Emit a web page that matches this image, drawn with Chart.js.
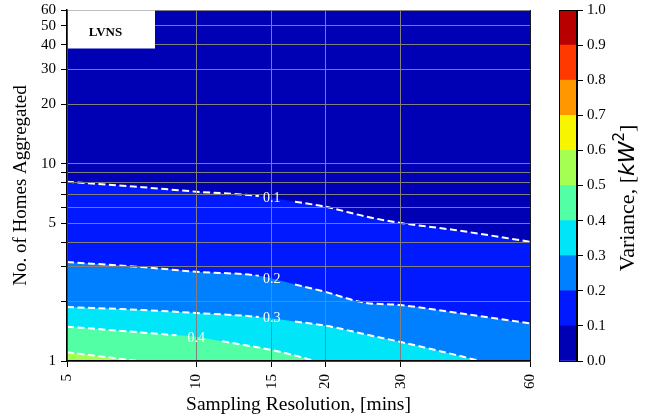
<!DOCTYPE html>
<html><head><meta charset="utf-8">
<script src="https://cdn.jsdelivr.net/npm/chart.js@4.4.1/dist/chart.umd.min.js"></script>
<style>
html,body{margin:0;padding:0;background:#fff;}
#wrap{position:relative;width:652px;height:419px;overflow:hidden;}
#main{position:absolute;left:0;top:0;}
#cbar{position:absolute;left:545px;top:0;}
</style></head><body>
<div id="wrap">
<canvas id="main" width="545" height="419"></canvas>
<canvas id="cbar" width="107" height="419"></canvas>
</div>
<script>
// ---- data ----
const xTicks = [5, 10, 15, 20, 30, 60];
const yTicks = [1, 2, 3, 4, 5, 6, 7, 8, 9, 10, 20, 30, 40, 50, 60];
const yLabelled = [1, 5, 10, 20, 30, 40, 50, 60];
const levels = [0.1, 0.2, 0.3, 0.4, 0.5];
const cbarTicks = [0, 0.1, 0.2, 0.3, 0.4, 0.5, 0.6, 0.7, 0.8, 0.9, 1.0];
const bandColors = ['#0000b4', '#0019ff', '#007fff', '#00e5f7', '#52ffa4', '#a4ff52', '#f7f500', '#ff9700', '#ff3900', '#b90000'];

// contour lines: sampling resolution (x) vs homes aggregated (y)
const c1X = [5, 7.5, 10, 14, 17, 20, 25, 30, 40, 60];
const c1Y = [8.1, 7.59, 7.21, 6.85, 6.41, 6.05, 5.38, 5.0, 4.61, 4.02];
const c2X = [5, 7.5, 10, 14, 17, 20, 24.5, 30, 40, 60];
const c2Y = [3.17, 2.99, 2.83, 2.70, 2.44, 2.24, 1.98, 1.92, 1.76, 1.55];
const c3X = [5, 7.5, 10, 14, 17, 20, 25, 30, 40, 45.9];
const c3Y = [1.877, 1.813, 1.751, 1.671, 1.585, 1.51, 1.36, 1.248, 1.077, 1.0];
const c4X = [5, 7, 9, 10, 11.5, 15, 17, 18.9];
const c4Y = [1.492, 1.41, 1.35, 1.328, 1.258, 1.137, 1.066, 1.0];
const c5X = [5, 6, 7.33];
const c5Y = [1.107, 1.055, 1.0];

const labelX = [15, 15, 15, 10];
const labelY = [6.69, 2.60, 1.65, 1.31];
const gapFrom = [14, 14, 14, 9];
const gapTo = [17, 17, 17, 11.5];

const SERIF = '"Liberation Serif", "Times New Roman", serif';
const contours = [[c1X, c1Y], [c2X, c2Y], [c3X, c3Y], [c4X, c4Y], [c5X, c5Y]];

const datasets = [];
contours.forEach((c, i) => {
  const data = c[0].map((x, j) => ({x: x, y: c[1][j]}));
  // filled band below this contour
  datasets.push({
    type: 'line', data: data,
    borderWidth: 0, borderColor: 'rgba(0,0,0,0)',
    backgroundColor: bandColors[i + 1],
    fill: 'start', pointRadius: 0,
    cubicInterpolationMode: 'monotone',
    order: 20 - i
  });
  // dashed contour line
  datasets.push({
    type: 'line', data: data,
    borderColor: '#ffffff', borderWidth: 2, borderDash: [7, 3.5],
    fill: false, pointRadius: 0,
    cubicInterpolationMode: 'monotone',
    order: 5 - i,
    segment: {
      borderColor: ctx => {
        if (i >= gapFrom.length) return '#ffffff';
        const a = data[ctx.p0DataIndex].x, b = data[ctx.p1DataIndex].x;
        return (a >= gapFrom[i] && b <= gapTo[i]) ? 'rgba(255,255,255,0)' : '#ffffff';
      }
    }
  });
});

const bgPlugin = {
  id: 'bg',
  beforeDatasetsDraw(chart) {
    const {ctx, chartArea: a} = chart;
    ctx.save();
    ctx.fillStyle = bandColors[0];
    ctx.fillRect(a.left, a.top, a.right - a.left, a.bottom - a.top);
    ctx.restore();
  }
};

const overlayPlugin = {
  id: 'overlay',
  afterDraw(chart) {
    const {ctx, chartArea: a} = chart;
    const xs = chart.scales.x, ys = chart.scales.y;
    ctx.save();
    ctx.font = '14px ' + SERIF;
    ctx.fillStyle = '#ffffff';
    ctx.textAlign = 'center';
    ctx.textBaseline = 'middle';
    labelX.forEach((lx, i) => {
      ctx.fillText(levels[i].toFixed(1), xs.getPixelForValue(lx), ys.getPixelForValue(labelY[i]));
    });
    // LVNS box
    ctx.fillStyle = '#ffffff';
    ctx.fillRect(a.left + 1, a.top + 0.5, 87, 38);
    ctx.fillStyle = '#000000';
    ctx.font = 'bold 13px ' + SERIF;
    ctx.fillText('LVNS', a.left + 38.5, a.top + 22.5);
    ctx.restore();
  }
};

function noPad(s) { s.paddingTop = 0; s.paddingBottom = 0; s.paddingLeft = 0; s.paddingRight = 0; }

new Chart(document.getElementById('main'), {
  type: 'line',
  data: {datasets: datasets},
  options: {
    responsive: false,
    animation: false,
    layout: {padding: {top: 10, right: 15, left: 0, bottom: 0}},
    plugins: {legend: {display: false}, tooltip: {enabled: false}},
    scales: {
      x: {
        type: 'logarithmic', min: 5, max: 60,
        afterBuildTicks: s => { s.ticks = xTicks.map(v => ({value: v})); },
        afterFit: s => { s.height = 58; noPad(s); },
        ticks: {autoSkip: false, minRotation: 90, maxRotation: 90, padding: 7, color: '#000',
          font: {family: SERIF, size: 15}, callback: v => String(v)},
        grid: {z: 1, color: ctx => (ctx.tick && ctx.tick.value === 60) ? '#1a1a1a' : '#808080',
          lineWidth: 1, tickColor: '#000', tickLength: 6, tickWidth: 1},
        border: {z: 2, display: true, color: '#000', width: 1.5},
        title: {display: true, text: 'Sampling Resolution, [mins]', color: '#000',
          font: {family: SERIF, size: 19.5}, padding: {top: 0, bottom: 2}}
      },
      y: {
        type: 'logarithmic', min: 1, max: 60,
        afterBuildTicks: s => { s.ticks = yTicks.map(v => ({value: v})); },
        afterFit: s => { s.width = 67; noPad(s); },
        ticks: {autoSkip: false, padding: 5, color: '#000', font: {family: SERIF, size: 15},
          callback: v => yLabelled.includes(v) ? String(v) : ''},
        grid: {z: 1, color: '#808080', lineWidth: 1, tickColor: '#000', tickLength: 6, tickWidth: 1},
        border: {z: 2, display: true, color: '#000', width: 1.5},
        title: {display: true, text: 'No. of Homes Aggregated', color: '#000',
          font: {family: SERIF, size: 19}, padding: {top: 10, bottom: 0}}
      }
    }
  },
  plugins: [bgPlugin, overlayPlugin]
});

// ---- colorbar ----
const cbarDatasets = bandColors.map((col, i) => ({
  data: [cbarTicks[i + 1] - cbarTicks[i]],
  backgroundColor: col,
  borderWidth: 0,
  barPercentage: 1,
  categoryPercentage: 1
}));

const cbarPlugin = {
  id: 'cbarTitle',
  afterDraw(chart) {
    const {ctx, chartArea: a} = chart;
    ctx.save();
    ctx.strokeStyle = '#000';
    ctx.lineWidth = 1;
    ctx.strokeRect(a.left + 0.5, a.top + 0.5, a.right - a.left - 1, a.bottom - a.top);
    // title with mixed fonts
    const parts = [
      {t: 'Variance, [', f: '22px ' + SERIF, dy: 0},
      {t: 'kW', f: 'italic 22px "DejaVu Sans"', dy: 0},
      {t: '2', f: '15px "DejaVu Sans"', dy: -10},
      {t: ']', f: '22px ' + SERIF, dy: 0}
    ];
    let total = 0;
    parts.forEach(p => { ctx.font = p.f; p.w = ctx.measureText(p.t).width; total += p.w; });
    ctx.translate(81, 198);
    ctx.rotate(-Math.PI / 2);
    ctx.fillStyle = '#000';
    ctx.textBaseline = 'alphabetic';
    ctx.textAlign = 'left';
    let x = -total / 2;
    parts.forEach(p => { ctx.font = p.f; ctx.fillText(p.t, x, 7.5 + p.dy); x += p.w; });
    ctx.restore();
  }
};

new Chart(document.getElementById('cbar'), {
  type: 'bar',
  data: {labels: ['v'], datasets: cbarDatasets},
  options: {
    responsive: false,
    animation: false,
    layout: {padding: {top: 10, right: 0, left: 14, bottom: 58}},
    plugins: {legend: {display: false}, tooltip: {enabled: false}},
    scales: {
      x: {display: false, stacked: true},
      y: {
        stacked: true, position: 'right', min: 0, max: 1,
        afterBuildTicks: s => { s.ticks = cbarTicks.map(v => ({value: v})); },
        afterFit: s => { s.width = 75; noPad(s); },
        ticks: {autoSkip: false, padding: 4, color: '#000', font: {family: SERIF, size: 15},
          callback: v => Number(v).toFixed(1)},
        grid: {drawOnChartArea: false, tickColor: '#000', tickLength: 6, tickWidth: 1},
        border: {display: true, color: '#000', width: 1}
      }
    }
  },
  plugins: [cbarPlugin]
});
</script>
</body></html>
